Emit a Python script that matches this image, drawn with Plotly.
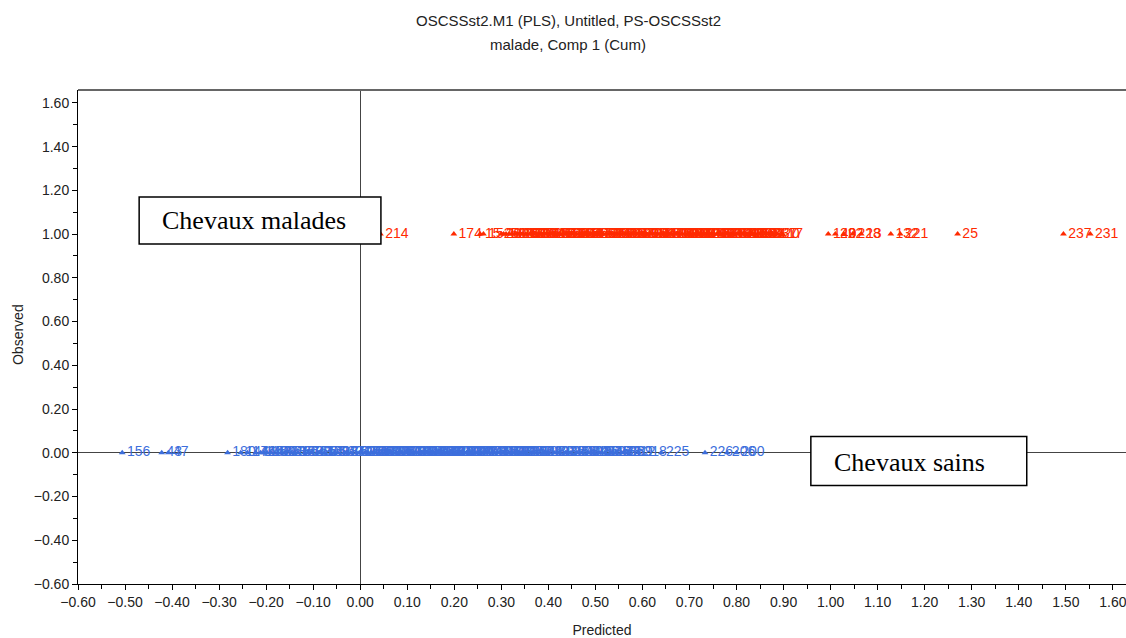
import plotly.graph_objects as go

# ---- data ----
red_pred = [0.043, 0.199, 0.255, 0.262, 0.300, 0.310, 0.322, 0.333, 0.345, 0.356, 0.368, 0.380,
            0.391, 0.402, 0.414, 0.425, 0.437, 0.448, 0.460, 0.471, 0.483, 0.494, 0.506, 0.517,
            0.529, 0.540, 0.552, 0.563, 0.575, 0.586, 0.598, 0.609, 0.621, 0.632, 0.644, 0.655,
            0.667, 0.678, 0.690, 0.701, 0.713, 0.724, 0.736, 0.747, 0.759, 0.770, 0.782, 0.793,
            0.805, 0.816, 0.828, 0.839, 0.851, 0.862, 0.874, 0.886,
            0.305, 0.316, 0.328, 0.339, 0.351, 0.362, 0.374, 0.386, 0.397, 0.408, 0.420, 0.431,
            0.443, 0.454, 0.466, 0.477, 0.489, 0.500, 0.512, 0.523, 0.535, 0.546, 0.558, 0.569,
            0.581, 0.592, 0.604, 0.615, 0.627, 0.638, 0.650, 0.661, 0.673, 0.684, 0.696, 0.707,
            0.719, 0.730, 0.742, 0.753, 0.765, 0.776, 0.788, 0.799, 0.811, 0.822, 0.834, 0.845,
            0.898, 0.995, 1.010, 1.028, 1.047, 1.065, 1.128, 1.148, 1.270, 1.495, 1.552]
red_lab = ["214", "174", "15", "152", "21", "58", "116", "26", "129", "92", "27", "161",
           "34", "196", "73", "108", "19", "145", "211", "84", "6", "163", "131", "57",
           "102", "22", "187", "66", "139", "4", "209", "95", "118", "31", "176", "50",
           "142", "12", "199", "88", "17", "121", "203", "63", "37", "134", "7", "82",
           "215", "49", "110", "169", "93", "14", "120", "37",
           "1", "8", "18", "23", "28", "30", "36", "39", "41", "46", "51", "53",
           "56", "60", "62", "64", "67", "69", "72", "75", "76", "78", "80", "85",
           "87", "90", "91", "94", "96", "98", "100", "103", "104", "107", "109", "112",
           "114", "115", "122", "123", "125", "127", "130", "133", "135", "136", "138", "141",
           "17", "140", "222", "9", "228", "13", "132", "221", "25", "237", "231"]
red_obs = [1.0] * len(red_pred)

blue_pred = [-0.506, -0.422, -0.408, -0.282, -0.222, -0.205, -0.190, -0.175, -0.160, -0.146,
             -0.132, -0.118, -0.104, -0.090, -0.076, -0.062, -0.048, -0.034, -0.020, -0.008,
             0.004, 0.016, 0.028, 0.040, 0.052, 0.064, 0.076, 0.088, 0.100, 0.112,
             0.124, 0.136, 0.148, 0.160, 0.172, 0.184, 0.196, 0.208, 0.220, 0.232,
             0.244, 0.256, 0.268, 0.280, 0.292, 0.304, 0.316, 0.328, 0.340, 0.352,
             0.364, 0.376, 0.388, 0.400, 0.412, 0.424, 0.436, 0.448, 0.460, 0.472,
             0.484, 0.496, 0.508, 0.520, 0.532, 0.544, 0.556, 0.568,
             -0.254, -0.240, -0.212, -0.198, -0.168, -0.139, -0.111, -0.083, -0.055, -0.027,
             -0.002, 0.010, 0.022, 0.034, 0.046, 0.058, 0.070, 0.082, 0.094, 0.106,
             0.118, 0.130, 0.142, 0.154, 0.166, 0.178, 0.190, 0.202, 0.214, 0.226,
             0.238, 0.250, 0.262, 0.274, 0.286, 0.298, 0.310, 0.322, 0.334, 0.346,
             0.370, 0.394, 0.418, 0.442, 0.466, 0.490, 0.514, 0.538, 0.562,
             0.592, 0.640, 0.733, 0.780, 0.800]
blue_lab = ["156", "43", "47", "180", "74", "148", "52", "193", "11", "167",
            "86", "143", "29", "205", "61", "113", "38", "170", "2", "97",
            "154", "45", "189", "70", "126", "16", "201", "81", "137", "24",
            "158", "99", "5", "183", "68", "119", "33", "210", "77", "147",
            "10", "172", "54", "106", "40", "195", "89", "128", "3", "165",
            "59", "111", "44", "191", "79", "124", "35", "178", "65", "101",
            "20", "157", "83", "117", "48", "186", "71", "212",
            "144", "146", "149", "150", "151", "153", "155", "159", "160", "162",
            "164", "166", "168", "171", "173", "175", "177", "179", "181", "182",
            "184", "185", "188", "190", "192", "194", "197", "198", "202", "204",
            "207", "208", "213", "216", "217", "219", "220", "223", "224", "227",
            "229", "230", "232", "233", "234", "235", "236", "238", "239",
            "218", "225", "226", "206", "200"]
blue_obs = [0.0] * len(blue_pred)

RED = "#FF2A00"
BLUE = "#3C6EDC"
LBL_FONT = "Liberation Sans Narrow, Arial Narrow, Liberation Sans, Arial, sans-serif"
SERIF = "Liberation Serif, Times New Roman, serif"

fig = go.Figure()
fig.add_trace(go.Scatter(
    x=blue_pred, y=blue_obs, mode="markers+text", text=blue_lab,
    textposition="middle right",
    textfont=dict(family=LBL_FONT, size=14, color=BLUE),
    marker=dict(symbol="triangle-up", size=6, color=BLUE),
    hoverinfo="x+y+text", showlegend=False))
fig.add_trace(go.Scatter(
    x=red_pred, y=red_obs, mode="markers+text", text=red_lab,
    textposition="middle right",
    textfont=dict(family=LBL_FONT, size=14, color=RED),
    marker=dict(symbol="triangle-up", size=6, color=RED),
    hoverinfo="x+y+text", showlegend=False))

axis_common = dict(
    showgrid=False, zeroline=True, zerolinecolor="#444444", zerolinewidth=1,
    showline=True, linecolor="black", linewidth=1,
    ticks="outside", ticklen=5, tickcolor="black", tickwidth=1,
    tickfont=dict(family=LBL_FONT, size=14, color="#222222"),
    tickformat=".2f", automargin=False, ticklabeloverflow="allow",
)

fig.update_layout(
    width=1126, height=638,
    margin=dict(l=78, r=0, t=90, b=54),
    paper_bgcolor="white", plot_bgcolor="white",
    xaxis=dict(range=[-0.6, 1.628], tick0=-0.6, dtick=0.1,
               minor=dict(dtick=0.05, ticks="outside", ticklen=4, tickcolor="black"),
               title=dict(text="Predicted", font=dict(family=LBL_FONT, size=14, color="#222222"),
                          standoff=19),
               **axis_common),
    yaxis=dict(range=[-0.6, 1.659], tick0=-0.6, dtick=0.2,
               minor=dict(dtick=0.1, ticks="outside", ticklen=4, tickcolor="black"),
               **axis_common),
    shapes=[
        dict(type="line", xref="paper", yref="paper", x0=0, x1=1, y0=1, y1=1,
             line=dict(color="#666666", width=2)),
        dict(type="rect", xref="x", yref="y", x0=-0.47, x1=0.044, y0=0.955, y1=1.17,
             fillcolor="white", line=dict(color="black", width=1.5), layer="above"),
        dict(type="rect", xref="x", yref="y", x0=0.958, x1=1.417, y0=-0.150, y1=0.075,
             fillcolor="white", line=dict(color="black", width=1.5), layer="above"),
    ],
    annotations=[
        dict(text="OSCSSst2.M1 (PLS), Untitled, PS-OSCSSst2", xref="paper", yref="paper",
             x=0.468, y=1, yshift=70, showarrow=False, xanchor="center", yanchor="middle",
             font=dict(family=LBL_FONT, size=15, color="#222222")),
        dict(text="malade, Comp 1 (Cum)", xref="paper", yref="paper",
             x=0.468, y=1, yshift=46, showarrow=False, xanchor="center", yanchor="middle",
             font=dict(family=LBL_FONT, size=15, color="#222222")),
        dict(text="Observed", xref="paper", yref="paper", x=0, y=0.504, xshift=-60,
             textangle=-90, showarrow=False, xanchor="center", yanchor="middle",
             font=dict(family=LBL_FONT, size=14, color="#222222")),
        dict(text="Chevaux malades", xref="x", yref="y", x=-0.426, y=1.06,
             xanchor="left", yanchor="middle", showarrow=False,
             font=dict(family=SERIF, size=26, color="black")),
        dict(text="Chevaux sains", xref="x", yref="y", x=1.004, y=-0.045,
             xanchor="left", yanchor="middle", showarrow=False,
             font=dict(family=SERIF, size=26, color="black")),
    ],
)

fig.write_html(
    "out.html",
    config={"displayModeBar": False},
    post_script="document.body.style.margin='0';document.body.style.overflow='hidden';",
)
